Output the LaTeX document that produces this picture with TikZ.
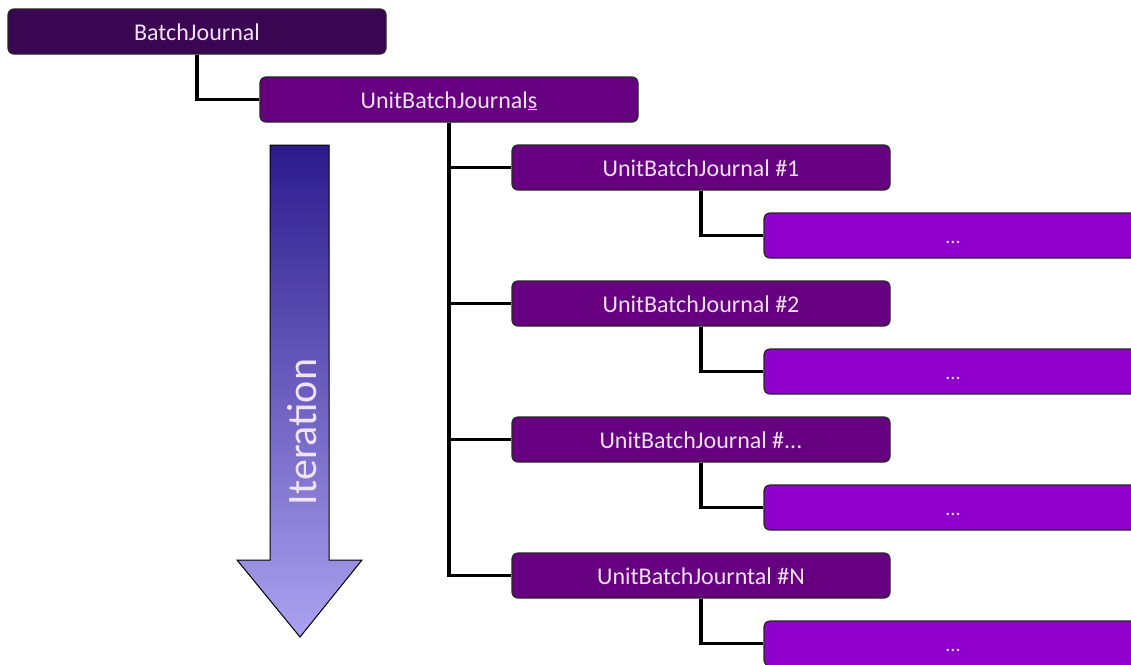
\documentclass[tikz,border=0pt]{standalone}
\usepackage{fontspec}
\setmainfont{Carlito}
\definecolor{topc}{RGB}{58,6,82}
\definecolor{midc}{RGB}{102,0,128}
\definecolor{leafc}{RGB}{144,0,204}
\definecolor{txtc}{RGB}{240,225,245}
\definecolor{arrtop}{RGB}{44,26,140}
\definecolor{arrbot}{RGB}{172,162,240}
\tikzset{
  box/.style={draw=black!85, line width=1.2pt, rounded corners=6pt, minimum width=378pt, minimum height=45pt, inner sep=0pt, text=txtc, font=\fontsize{24}{28}\selectfont, text height=17pt, text depth=0pt},
  topbox/.style={box, fill=topc},
  midbox/.style={box, fill=midc},
  leafbox/.style={box, fill=leafc, font=\fontsize{20}{24}\selectfont, text height=16pt, text depth=0pt},
  conn/.style={line width=3.2pt, black},
}
\begin{document}
\begin{tikzpicture}[x=1pt,y=-1pt]
\path[use as bounding box] (0,0) rectangle (1131,664);
\clip (0,0) rectangle (1131,664);
\fill[white] (0,0) rectangle (1131,664);
% arrow
\shade[top color=arrtop, bottom color=arrbot, draw=black, line width=1pt]
  (270,145) -- (329,145) -- (329,560) -- (362,560) -- (300,637) -- (237,560) -- (270,560) -- cycle;
\node[rotate=90, text=txtc, font=\fontsize{42}{48}\selectfont] (iter) at (302,432) {Iteration};
% nodes
\node[topbox] (bj) at (197,31.5) {BatchJournal};
\node[midbox] (ubjs) at (449,99.5) {UnitBatchJournal\underline{s}};
\node[midbox] (u1) at (701,167.5) {UnitBatchJournal \#1};
\node[midbox] (u2) at (701,303.5) {UnitBatchJournal \#2};
\node[midbox] (u3) at (701,439.5) {UnitBatchJournal \#...};
\node[midbox] (u4) at (701,575.5) {UnitBatchJourntal \#N};
\node[leafbox] (l1) at (953,235.5) {...};
\node[leafbox] (l2) at (953,371.5) {...};
\node[leafbox] (l3) at (953,507.5) {...};
\node[leafbox] (l4) at (953,643.5) {...};
% connectors
\draw[conn] (bj.south) |- (ubjs.west);
\draw[conn] (ubjs.south) |- (u1.west);
\draw[conn] (ubjs.south) |- (u2.west);
\draw[conn] (ubjs.south) |- (u3.west);
\draw[conn] (ubjs.south) |- (u4.west);
\draw[conn] (u1.south) |- (l1.west);
\draw[conn] (u2.south) |- (l2.west);
\draw[conn] (u3.south) |- (l3.west);
\draw[conn] (u4.south) |- (l4.west);
\end{tikzpicture}
\end{document}
